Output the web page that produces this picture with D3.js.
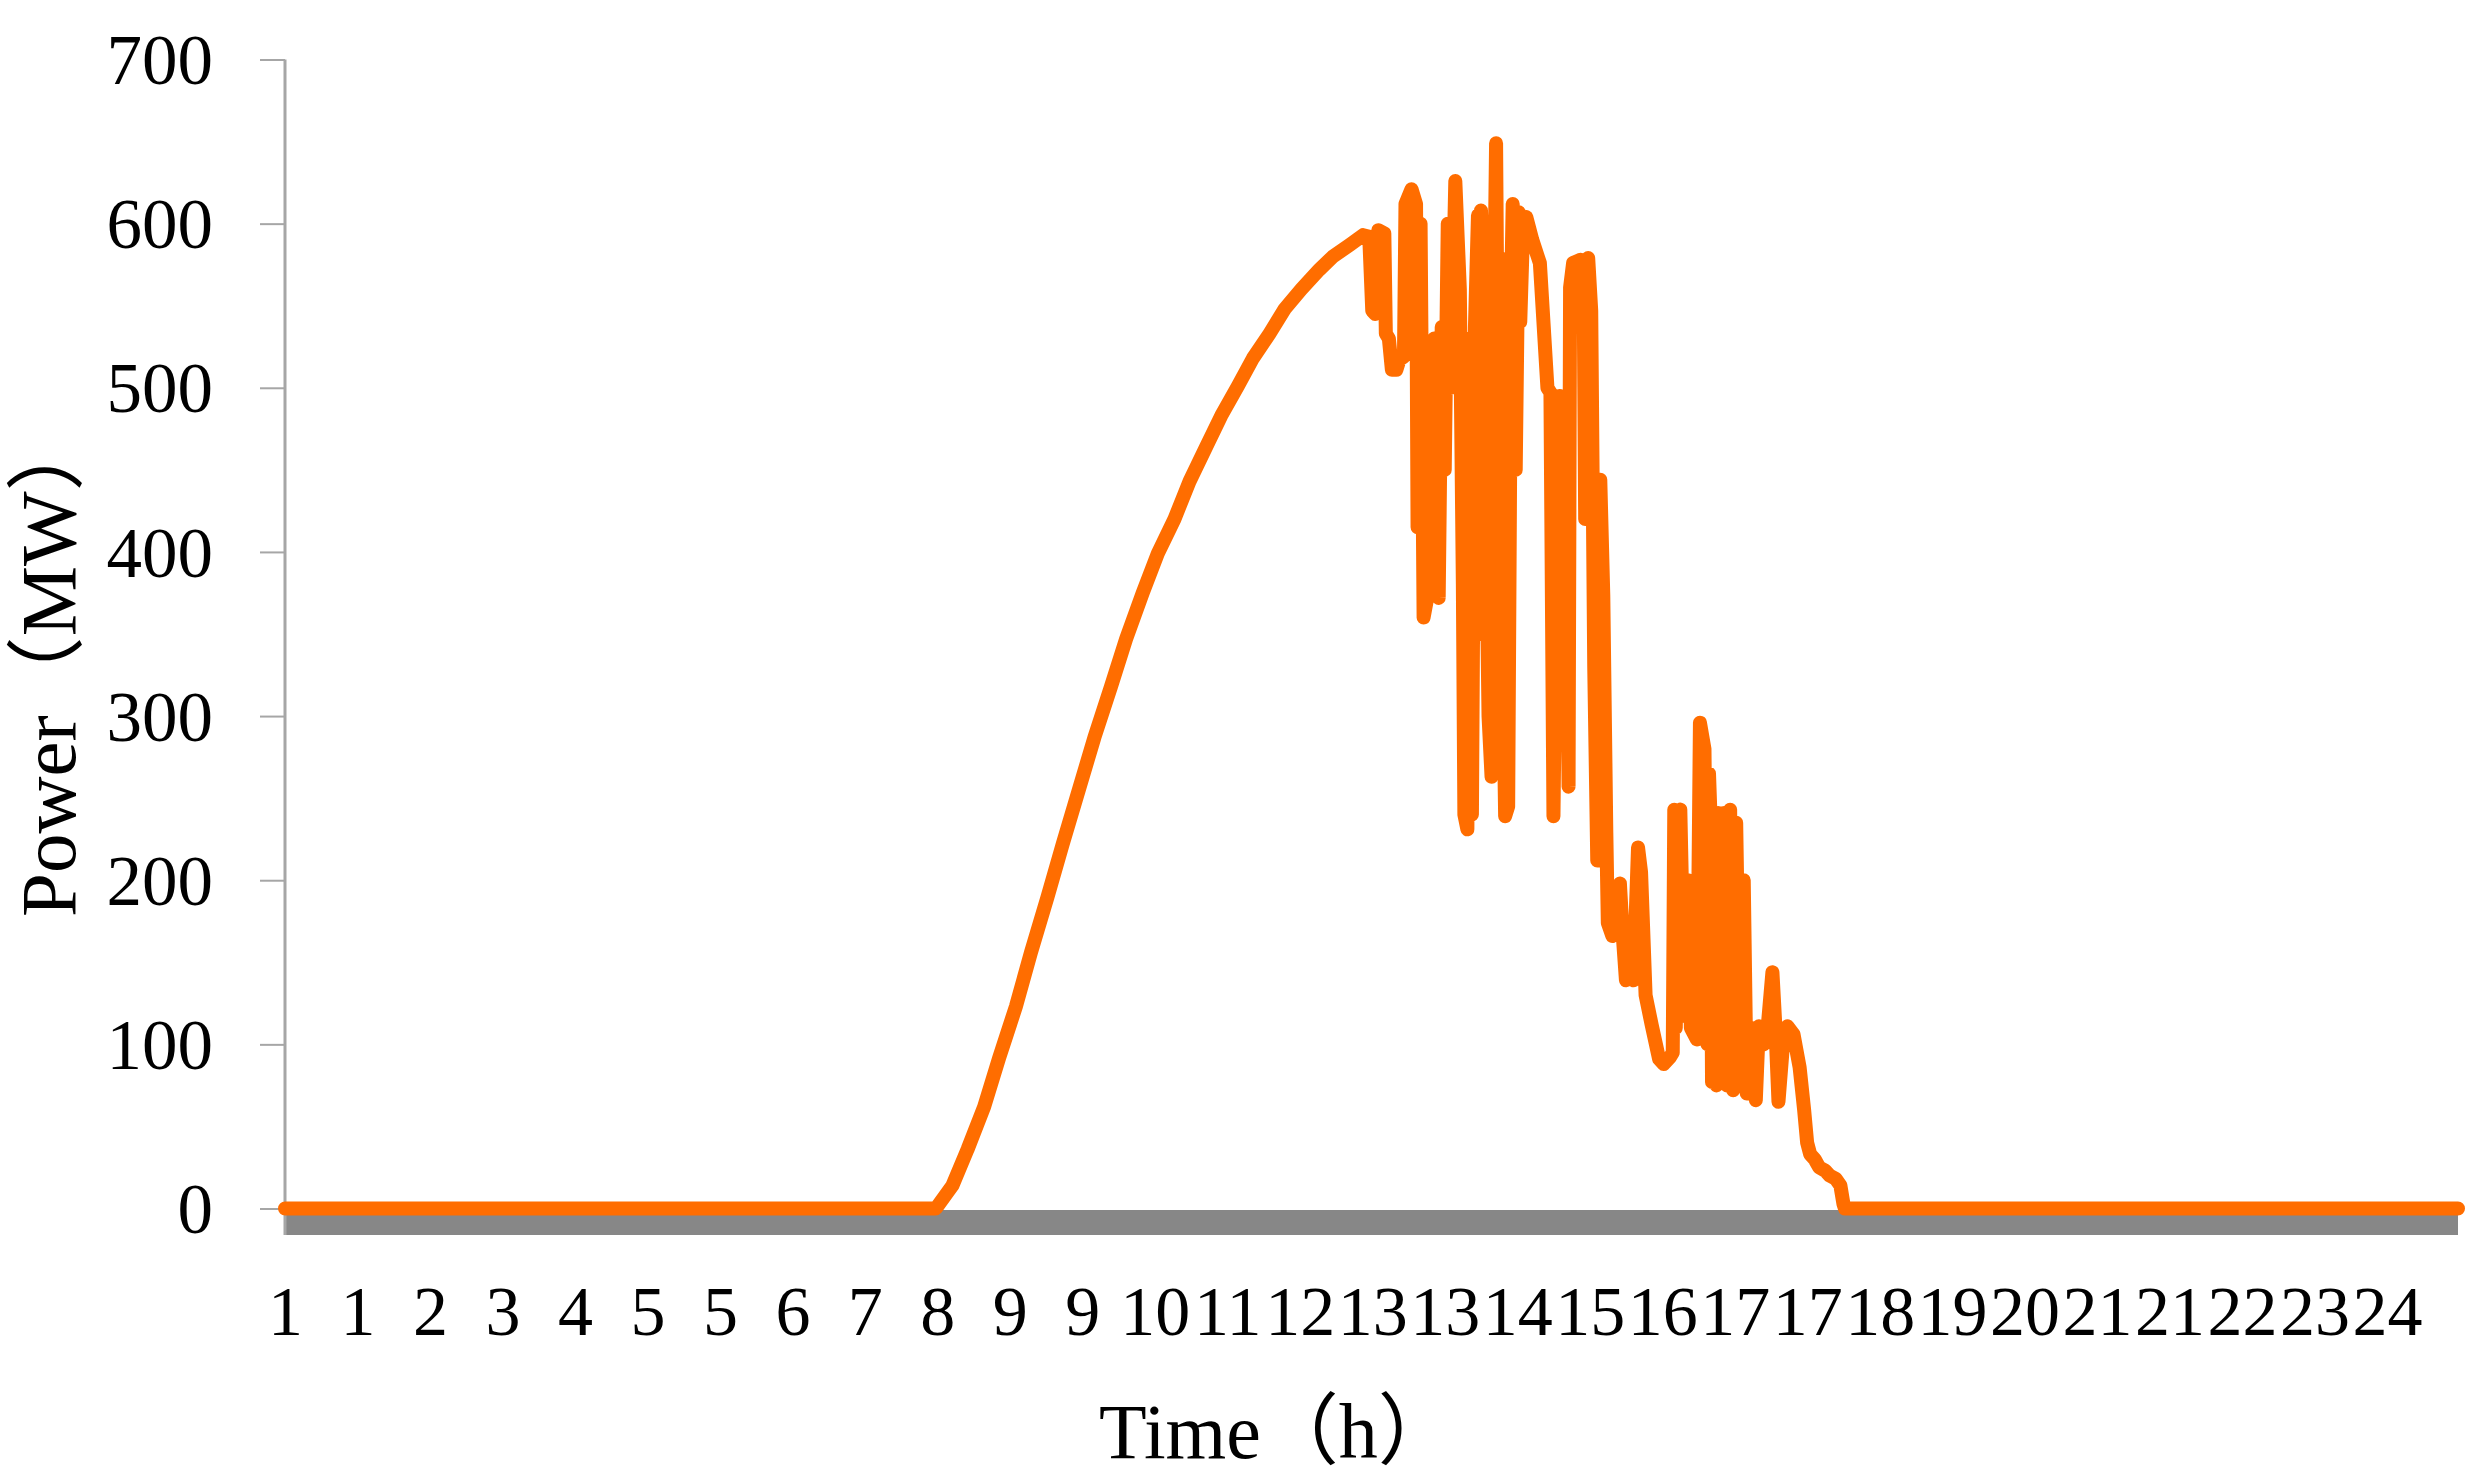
<!DOCTYPE html>
<html>
<head>
<meta charset="utf-8">
<script src="https://cdn.jsdelivr.net/npm/d3@7"></script>
<style>
  html, body { margin: 0; padding: 0; background: #ffffff; }
  svg { display: block; }
</style>
</head>
<body>
<svg id="chart" width="2487" height="1482"></svg>
<script>
// ---- data (minute of day, power in MW) ----
const minutes = [0,431,442,452,463,473,484,494,505,515,
  526,536,547,557,568,578,589,599,610,620,
  631,641,652,662,673,685,694,705,714,718,
  720,722,724,728,729,731,733,736,738,741,
  742,746,749,750,752,754,756,758,760,761,
  763,764,766,768,770,772,775,778,780,781,
  783,785,786,788,790,791,792,794,795,797,
  799,800,802,804,805,807,808,810,812,813,
  815,817,818,820,822,826,831,836,838,840,
  842,844,846,848,850,851,853,858,860,861,
  863,865,867,869,871,873,875,876,879,882,
  884,886,888,891,893,896,898,901,905,910,
  913,917,919,920,921,923,924,926,928,929,
  931,935,937,940,942,943,944,945,946,947,
  948,949,950,951,952,953,954,955,956,957,
  958,959,961,963,965,966,968,971,974,976,
  979,982,985,987,989,992,995,999,1003,1006,
  1008,1010,1013,1016,1020,1023,1027,1030,1032,1033,
  1439];
const power = [0,0,14,36,62,92,123,156,190,222,
  256,287,318,347,375,399,420,443,464,483,
  501,518,533,548,560,572,580,587,593,592,
  547,545,596,594,533,530,511,511,517,519,
  612,621,612,415,600,360,370,517,420,530,
  400,372,537,450,600,500,626,560,380,240,
  231,530,240,537,605,350,608,560,440,300,
  263,500,649,400,579,300,239,245,560,612,
  450,607,540,600,604,590,576,500,497,239,
  400,495,490,450,257,561,576,578,560,420,
  579,547,330,212,444,373,229,174,166,175,
  198,165,139,142,139,220,205,130,112,91,
  88,92,95,243,110,240,243,156,117,200,
  110,103,296,280,100,265,239,77,200,82,
  75,241,90,120,80,241,200,75,90,243,
  150,72,235,120,108,200,70,110,66,111,
  100,112,144,110,65,100,111,106,86,60,
  40,33,30,25,23,20,18,14,3,0,
  0];

// category tick labels (one every 48 minutes)
const xTickMinutes = [0, 48, 96, 144, 192, 240, 288, 336, 384, 432, 480, 528, 576, 624, 672, 720, 768, 816, 864, 912, 960, 1008, 1056, 1104, 1152, 1200, 1248, 1296, 1344, 1392];
const xTickLabels = ["1", "1", "2", "3", "4", "5", "5", "6", "7", "8", "9", "9", "10", "11", "12", "13", "13", "14", "15", "16", "17", "17", "18", "19", "20", "21", "21", "22", "23", "24"];
const yTicks = [0, 100, 200, 300, 400, 500, 600, 700];

const xTitle = "Time（h）";
const yTitle = "Power（MW）";

// ---- drawing ----
const svg = d3.select("#chart");
const FONT = "'Liberation Serif', 'Noto Sans CJK SC', serif";

const x = d3.scaleLinear().domain([0, 1439]).range([285, 2458]);
const y = d3.scaleLinear().domain([0, 700]).range([1208.5, 59.5]);

// gray floor band under the zero line
svg.append("rect")
  .attr("x", x(0)).attr("y", y(0) + 1.5)
  .attr("width", x(1439) - x(0)).attr("height", 25)
  .attr("fill", "#878787");

// y axis
const yAxis = svg.append("g")
  .attr("transform", `translate(${x(0)},0)`)
  .call(d3.axisLeft(y).tickValues(yTicks).tickSize(25).tickPadding(47).tickFormat(d3.format("d")));
yAxis.select(".domain").remove();
yAxis.selectAll(".tick line").attr("stroke", "#a6a6a6").attr("stroke-width", 2);
yAxis.selectAll(".tick text")
  .attr("font-family", FONT).attr("font-size", 71).attr("fill", "#000")
  .attr("dy", "0.34em");

svg.append("line")
  .attr("x1", x(0)).attr("x2", x(0))
  .attr("y1", y(700)).attr("y2", y(0) + 26.5)
  .attr("stroke", "#a6a6a6").attr("stroke-width", 3);

// x axis (labels only)
const labelMap = new Map(xTickMinutes.map((m, i) => [m, xTickLabels[i]]));
const xAxis = svg.append("g")
  .attr("transform", `translate(0,${y(0)})`)
  .call(d3.axisBottom(x).tickValues(xTickMinutes).tickSize(0).tickFormat(d => labelMap.get(d)));
xAxis.select(".domain").remove();
xAxis.selectAll(".tick text")
  .attr("font-family", FONT).attr("font-size", 70).attr("fill", "#000")
  .attr("y", 126).attr("dy", 0);

// series line
const data = minutes.map((m, i) => ({ m, v: power[i] }));
svg.append("path")
  .datum(data)
  .attr("fill", "none")
  .attr("stroke", "#ff6d00")
  .attr("stroke-width", 14)
  .attr("stroke-linejoin", "round")
  .attr("stroke-linecap", "round")
  .attr("d", d3.line().x(d => x(d.m)).y(d => y(d.v)));

// axis titles
svg.append("text")
  .attr("x", 1099).attr("y", 1458)
  .attr("font-family", FONT).attr("font-size", 78).attr("fill", "#000")
  .text(xTitle);

svg.append("text")
  .attr("transform", "translate(75,917) rotate(-90)")
  .attr("font-family", FONT).attr("font-size", 79).attr("fill", "#000")
  .text(yTitle);
</script>
</body>
</html>
